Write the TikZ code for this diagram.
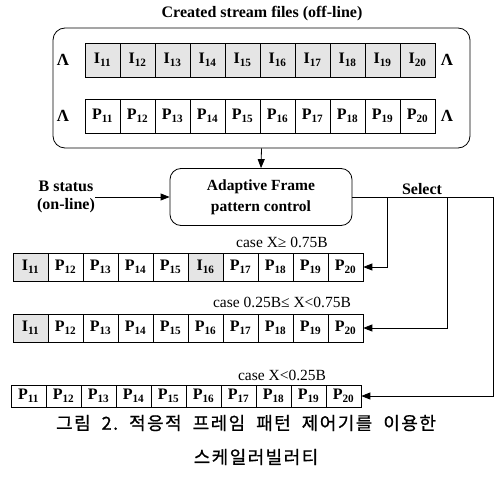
\documentclass[tikz,border=0pt]{standalone}
\usepackage{fontspec}
\setmainfont{Liberation Serif}
\newfontfamily\krfont[LetterSpace=8, FakeBold=0.8]{Noto Sans CJK KR}
\usetikzlibrary{arrows.meta}

\tikzset{
  cellbox/.style={draw, line width=0.7pt, minimum width=35pt, inner sep=0pt,
    font=\fontsize{16}{16}\selectfont\bfseries},
  iframe/.style={cellbox, fill=gray!20},
  lab/.style={font=\fontsize{16}{18}\selectfont\bfseries, inner sep=0pt, align=center},
  caselab/.style={font=\fontsize{15.5}{17}\selectfont, inner sep=0pt},
  lam/.style={font=\fontsize{17}{17}\selectfont\bfseries, inner sep=0pt},
  link/.style={line width=0.8pt},
  arr/.style={link, -{Triangle[length=9pt,width=7pt]}},
  caption/.style={font=\krfont\fontsize{18}{20}\selectfont, inner sep=0pt},
}
\newcommand{\ws}{\hspace{11pt}}

\begin{document}
\begin{tikzpicture}[x=1pt, y=-1pt]
  \useasboundingbox (0,0) rectangle (495,484);

  % stored stream files
  \node[lab] (title) at (262,14) {Created stream files (off-line)};
  \node[draw, line width=0.8pt, rounded corners=12pt, minimum width=417pt,
        minimum height=120pt, inner sep=0pt] (store) at (261.5,88) {};

  \foreach \k in {1,...,10} {
    \pgfmathtruncatemacro\n{10+\k}
    \node[iframe, minimum height=34pt] (i\k) at ({102.5+35*(\k-1)},60) {I\textsubscript{\n}};
    \node[cellbox, minimum height=34pt] (p\k) at ({102.5+35*(\k-1)},116) {P\textsubscript{\n}};
  }
  \node[lam] (li1) at (63,60) {Λ};
  \node[lam] (li2) at (447,60) {Λ};
  \node[lam] (lp1) at (63,116) {Λ};
  \node[lam] (lp2) at (447,116) {Λ};

  % controller
  \node[draw, line width=0.8pt, rounded corners=11pt, minimum width=182pt,
        minimum height=57pt, inner sep=0pt, lab, font=\fontsize{15.5}{21}\selectfont\bfseries]
        (afp) at (261,197) {Adaptive Frame\\pattern control};
  \draw[arr] (store.south) -- (afp.north);

  \node[lab] (bst) at (66,197) {B status\\(on-line)};
  \draw[arr] (bst.east) -- (afp.west);

  \node[lab, anchor=base] (sel) at (422,194) {Select};

  % selection lines
  \coordinate (j1) at (387,197);
  \coordinate (j2) at (447,197);
  \coordinate (j3) at (493,197);
  \draw[link] (afp.east) -- (j3);

  % case X >= 0.75B
  \node[caselab] (ca) at (282,242) {case X≥ 0.75B};
  \foreach \k/\t/\s in {1/I/iframe,2/P/cellbox,3/P/cellbox,4/P/cellbox,5/P/cellbox,
                        6/I/iframe,7/P/cellbox,8/P/cellbox,9/P/cellbox,10/P/cellbox} {
    \pgfmathtruncatemacro\n{10+\k}
    \node[\s, minimum height=28pt] (a\k) at ({30.5+35*(\k-1)},267) {\t\textsubscript{\n}};
  }
  \draw[arr] (j1) |- (a10.east);

  % case 0.25B <= X < 0.75B
  \node[caselab] (cb) at (282,302) {case 0.25B≤ X<0.75B};
  \foreach \k/\t/\s in {1/I/iframe,2/P/cellbox,3/P/cellbox,4/P/cellbox,5/P/cellbox,
                        6/P/cellbox,7/P/cellbox,8/P/cellbox,9/P/cellbox,10/P/cellbox} {
    \pgfmathtruncatemacro\n{10+\k}
    \node[\s, minimum height=28pt] (b\k) at ({30.5+35*(\k-1)},328) {\t\textsubscript{\n}};
  }
  \draw[arr] (j2) |- (b10.east);

  % case X < 0.25B
  \node[caselab] (cc) at (282,375) {case X<0.25B};
  \foreach \k in {1,...,10} {
    \pgfmathtruncatemacro\n{10+\k}
    \node[cellbox, minimum height=22pt] (c\k) at ({28.5+35*(\k-1)},396) {P\textsubscript{\n}};
  }
  \draw[arr] (j3) |- (c10.east);

  % caption
  \node[caption] (cap1) at (246,423) {그림\ws 2.\ws 적응적\ws 프레임\ws 패턴\ws 제어기를\ws 이용한};
  \node[caption] (cap2) at (256,457) {스케일러빌러티};
\end{tikzpicture}
\end{document}
